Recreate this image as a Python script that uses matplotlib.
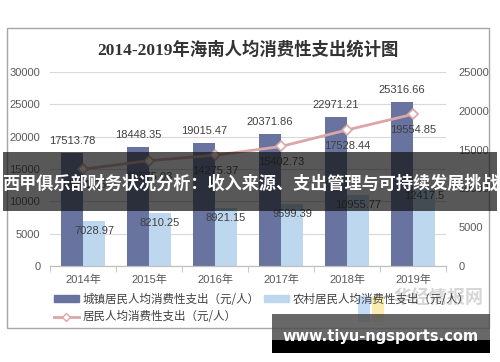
import numpy as np
import matplotlib
matplotlib.use('Agg')
import matplotlib.pyplot as plt
from matplotlib.patches import Rectangle
from matplotlib.lines import Line2D

plt.rcParams['font.family'] = ['Liberation Sans', 'Noto Sans CJK SC', 'DejaVu Sans']

# data
years = ['2014年', '2015年', '2016年', '2017年', '2018年', '2019年']
urban = [17513.78, 18448.35, 19015.47, 20371.86, 22971.21, 25316.66]
rural = [7028.97, 8210.25, 8921.15, 9599.39, 10955.77, 12417.5]
overall = [12471.05, 13575.03, 14275.37, 15402.73, 17528.44, 19554.85]

title = '2014-2019年海南人均消费性支出统计图'
lbl_urban = '城镇居民人均消费性支出（元/人）'
lbl_rural = '农村居民人均消费性支出（元/人）'
lbl_all = '居民人均消费性支出（元/人）'
banner = '西甲俱乐部财务状况分析：收入来源、支出管理与可持续发展挑战'
site = 'www.tiyu-ngsports.com'

c_urban = '#68739f'
c_rural = '#bdd7ee'
c_line = '#dba6a6'
c_txt = '#404040'

W, H = 500, 362
fig = plt.figure(figsize=(W / 100, H / 100), dpi=100)


def fx(px):
    return px / W


def fy(py):
    return 1 - py / H


# chart border
fig.patches.append(Rectangle((fx(7), fy(328)), fx(482), 300 / H,
                             transform=fig.transFigure, fill=False,
                             edgecolor='#a6a6a6', lw=1.0, zorder=0))

ax = fig.add_axes([fx(50), fy(266), fx(396), 194 / H])
ax2 = ax.twinx()

x = np.arange(len(years))
bw = 1 / 3
ax.bar(x - bw / 2, urban, width=bw, color=c_urban, zorder=2)
ax.bar(x + bw / 2, rural, width=bw, color=c_rural, zorder=2)
ax.set_ylim(0, 30000)
ax.set_xlim(-0.5, len(years) - 0.5)
ax.set_yticks(np.arange(0, 30001, 5000))
ax.yaxis.grid(True, color='#d9d9d9', lw=0.8, zorder=0)
ax.set_axisbelow(True)

ax2.plot(x, overall, color=c_line, lw=2, marker='D', ms=5.5,
         mfc='white', mec=c_line, mew=1.2, zorder=3)
ax2.set_ylim(0, 25000)
ax2.set_yticks(np.arange(0, 25001, 5000))

for a in (ax, ax2):
    for s in ('top', 'left', 'right'):
        a.spines[s].set_visible(False)
    a.spines['bottom'].set_color('#bfbfbf')
    a.tick_params(axis='y', length=0, labelsize=8, labelcolor='#595959')
ax.tick_params(axis='y', pad=7)
ax2.tick_params(axis='y', pad=9)

ax.set_xticks(x)
ax.set_xticklabels(years, fontsize=8, color='#595959')
ax.set_xticks(np.arange(-0.5, len(years), 1), minor=True)
ax.tick_params(axis='x', which='major', length=0, pad=6)
ax.tick_params(axis='x', which='minor', length=4, color='#bfbfbf')

for xi, v in zip(x, urban):
    ax.annotate(str(v), (xi - bw / 2, v), xytext=(0, 12),
                textcoords='offset pixels', ha='center', va='center',
                fontsize=8, color=c_txt, zorder=5)
for xi, v in zip(x, rural):
    ax.annotate(str(v), (xi + bw / 2, v), xytext=(0, -10),
                textcoords='offset pixels', ha='center', va='center',
                fontsize=8, color=c_txt, zorder=5)
for xi, v in zip(x, overall):
    ax2.annotate(str(v), (xi, v), xytext=(0, -16),
                 textcoords='offset pixels', ha='center', va='center',
                 fontsize=8, color=c_txt, zorder=5)

fig.text(fx(248), fy(50), title, ha='center', va='center', fontsize=12.5,
         fontweight='bold', color='#333333',
         family=['Liberation Serif', 'Noto Sans CJK SC'])

handles = [Rectangle((0, 0), 1, 1, color=c_urban),
           Line2D([], [], color=c_line, lw=2, marker='D', ms=4,
                  mfc='white', mec=c_line),
           Rectangle((0, 0), 1, 1, color=c_rural)]
labels = [lbl_urban, lbl_all, lbl_rural]
leg = fig.legend(handles, labels, ncol=2, loc='upper left',
                 bbox_to_anchor=(fx(49), fy(288)), frameon=False,
                 prop={'family': 'Noto Sans CJK SC', 'size': 8.3},
                 handlelength=2.2, handleheight=0.5, handletextpad=0.3,
                 columnspacing=0.4, labelspacing=0.4, borderaxespad=0)
for t in leg.get_texts():
    t.set_color(c_txt)

# faint watermark logo
fig.patches.append(Rectangle((fx(358), fy(322)), fx(12), 26 / H,
                             transform=fig.transFigure, color='#9fc3f0',
                             alpha=0.6, lw=0, zorder=1))
fig.patches.append(Rectangle((fx(372), fy(322)), fx(12), 26 / H,
                             transform=fig.transFigure, color='#f5e27a',
                             alpha=0.6, lw=0, zorder=1))
fig.text(fx(438), fy(298), '华经情报网', ha='center', va='center', fontsize=13,
         fontweight='bold', color='#cccccc', alpha=0.8,
         family='Noto Sans CJK SC')

# overlay banner
fig.patches.append(Rectangle((fx(3), fy(211)), fx(494), 59 / H,
                             transform=fig.transFigure, color='#111111',
                             alpha=0.7, lw=0, zorder=10))
fig.text(fx(250), fy(184), banner, ha='center', va='center', fontsize=12.3,
         fontweight='bold', color='white', family='Noto Sans CJK SC',
         zorder=11)

# site box
fig.patches.append(Rectangle((fx(272), fy(340)), fx(218), 26 / H,
                             transform=fig.transFigure, color='#4d4d4d',
                             alpha=0.85, lw=0, zorder=10))
fig.patches.append(Rectangle((fx(272), fy(353)), fx(218), 13 / H,
                             transform=fig.transFigure, color='black',
                             lw=0, zorder=10))
fig.text(fx(381), fy(336), site, ha='center', va='center', fontsize=10.5,
         fontweight='bold', color='white', family='DejaVu Sans', zorder=11)

fig.savefig('out.png', dpi=100)
